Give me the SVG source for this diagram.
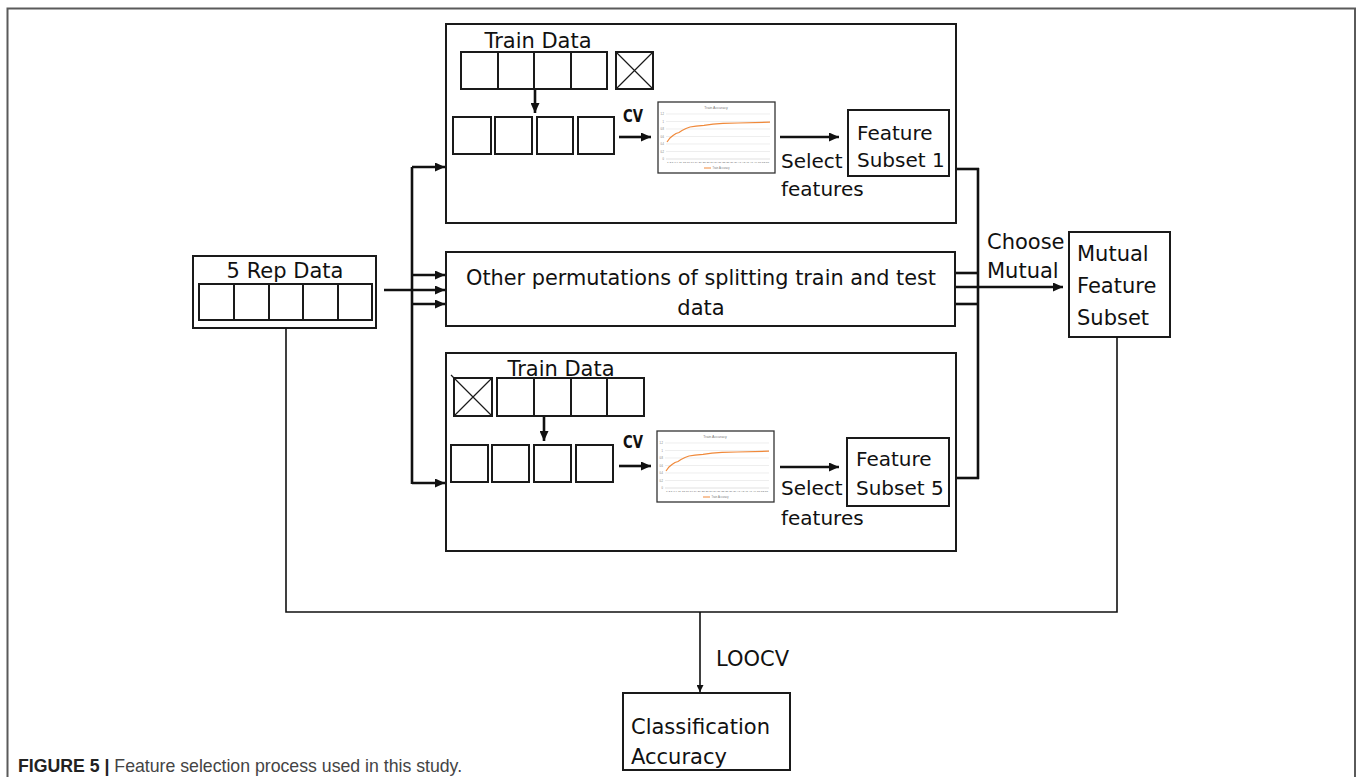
<svg xmlns="http://www.w3.org/2000/svg" xmlns:xlink="http://www.w3.org/1999/xlink" width="1358" height="777" viewBox="0 0 1358 777">
  <style>
    .box { fill: #fff; stroke: #1a1a1a; stroke-width: 2; }
    .cell { fill: #fff; stroke: #1a1a1a; stroke-width: 2; }
    .lbl { font-family: "DejaVu Sans", "Noto Sans", sans-serif; font-size: 21px; fill: #111; }
    .sm { font-size: 20px; }
    .cv { font-family: "DejaVu Sans", sans-serif; font-size: 18px; font-weight: bold; fill: #111; }
    .wire { fill: none; stroke: #111; stroke-width: 2.6; }
    .thin { fill: none; stroke: #111; stroke-width: 1.6; }
    .tiny { font-family: "Liberation Sans", sans-serif; fill: #777; }
    .cap { font-family: "Liberation Sans", Arial, sans-serif; font-size: 17.7px; }
  </style>
  <defs>
    <marker id="ah" markerUnits="userSpaceOnUse" markerWidth="10" markerHeight="9" viewBox="0 0 10 9" refX="10" refY="4.5" orient="auto">
      <path d="M0,0 L10,4.5 L0,9 z" fill="#111"/>
    </marker>
    <marker id="ahs" markerUnits="userSpaceOnUse" markerWidth="7" markerHeight="7" viewBox="0 0 7 7" refX="7" refY="3.5" orient="auto">
      <path d="M0,0 L7,3.5 L0,7 z" fill="#111"/>
    </marker>
    <!-- small line chart of train accuracy, 117 x 71 -->
    <g id="chart">
      <rect x="0" y="0" width="117" height="71" fill="#fff" stroke="#333" stroke-width="1.3"/>
      <text class="tiny" x="58" y="7" font-size="3.6" text-anchor="middle">Train Accuracy</text>
      <g stroke="#e2e2e2" stroke-width="0.6">
        <line x1="8" y1="12" x2="112" y2="12"/>
        <line x1="8" y1="19.5" x2="112" y2="19.5"/>
        <line x1="8" y1="27" x2="112" y2="27"/>
        <line x1="8" y1="34.5" x2="112" y2="34.5"/>
        <line x1="8" y1="42" x2="112" y2="42"/>
        <line x1="8" y1="49.5" x2="112" y2="49.5"/>
        <line x1="8" y1="57" x2="112" y2="57" stroke="#ccc"/>
      </g>
      <g class="tiny" font-size="2.6" text-anchor="end">
        <text x="6" y="13">1.2</text>
        <text x="6" y="20.5">1</text>
        <text x="6" y="28">0.8</text>
        <text x="6" y="35.5">0.6</text>
        <text x="6" y="43">0.4</text>
        <text x="6" y="50.5">0.2</text>
        <text x="6" y="58">0</text>
      </g>
      <polyline fill="none" stroke="#f0893a" stroke-width="1.2" points="9,40 12,36 15,33.5 18,31.5 21,30.5 24,28.5 28,26.5 32,25 38,24.2 46,23.4 55,22.2 65,21.4 80,21 112,20.2"/>
      <text class="tiny" x="60" y="61" font-size="2.2" text-anchor="middle" textLength="102" lengthAdjust="spacingAndGlyphs">1 3 5 7 9 11 13 15 17 19 21 23 25 27 29 31 33 35 37 39 41 43 45 47 49 51 53 55</text>
      <line x1="46" y1="66" x2="53" y2="66" stroke="#f0893a" stroke-width="1"/>
      <text class="tiny" x="54.5" y="67" font-size="2.6">Train Accuracy</text>
    </g>
  </defs>

  <rect width="1358" height="777" fill="#fff"/>

  <!-- outer figure frame, open at the bottom -->
  <path d="M7.5,777 V8.5 H1355 V777" fill="none" stroke="#5a5a5a" stroke-width="2"/>

  <!-- source data -->
  <g id="rep-data">
    <rect class="box" x="193" y="256" width="183" height="72"/>
    <text class="lbl" x="285" y="278" text-anchor="middle">5 Rep Data</text>
    <rect class="cell" x="199" y="284" width="173" height="36"/>
    <line class="cell" x1="234" y1="284" x2="234" y2="320"/>
    <line class="cell" x1="269" y1="284" x2="269" y2="320"/>
    <line class="cell" x1="303" y1="284" x2="303" y2="320"/>
    <line class="cell" x1="338" y1="284" x2="338" y2="320"/>
  </g>

  <!-- first split -->
  <g id="split-1">
    <rect class="box" x="446" y="24" width="510" height="199"/>
    <text class="lbl" x="538" y="48" text-anchor="middle">Train Data</text>
    <rect class="cell" x="461" y="52" width="146" height="37"/>
    <line class="cell" x1="498" y1="52" x2="498" y2="89"/>
    <line class="cell" x1="534" y1="52" x2="534" y2="89"/>
    <line class="cell" x1="571" y1="52" x2="571" y2="89"/>
    <rect class="cell" x="616" y="52" width="37" height="37"/>
    <path d="M616,52 L653,89 M653,52 L616,89" stroke="#1a1a1a" stroke-width="1.2"/>
    <line class="wire" x1="535" y1="90" x2="535" y2="113" stroke-width="2.2" marker-end="url(#ah)"/>
    <rect class="cell" x="453" y="117" width="38" height="37"/>
    <rect class="cell" x="495" y="117" width="37" height="37"/>
    <rect class="cell" x="537" y="117" width="36" height="37"/>
    <rect class="cell" x="578" y="117" width="36" height="37"/>
    <text class="cv" x="623" y="122" textLength="20" lengthAdjust="spacingAndGlyphs">CV</text>
    <line class="wire" x1="619" y1="137" x2="651" y2="137" marker-end="url(#ah)"/>
    <use xlink:href="#chart" x="658" y="102"/>
    <line class="wire" x1="780" y1="137" x2="839" y2="137" marker-end="url(#ah)"/>
    <text class="lbl sm" x="781" y="168">Select</text>
    <text class="lbl sm" x="781" y="196">features</text>
    <rect class="box" x="848" y="110" width="101" height="66"/>
    <text class="lbl sm" x="857" y="140">Feature</text>
    <text class="lbl sm" x="857" y="167">Subset 1</text>
  </g>

  <!-- remaining splits -->
  <g id="other-splits">
    <rect class="box" x="446" y="252" width="509" height="74"/>
    <text class="lbl" x="701" y="285" text-anchor="middle" textLength="470" lengthAdjust="spacingAndGlyphs">Other permutations of splitting train and test</text>
    <text class="lbl" x="701" y="315" text-anchor="middle">data</text>
  </g>

  <!-- fifth split -->
  <g id="split-5">
    <rect class="box" x="446" y="353" width="510" height="198"/>
    <text class="lbl" x="561" y="376" text-anchor="middle">Train Data</text>
    <rect class="cell" x="454" y="378" width="38" height="38"/>
    <path d="M451,375 L492,416 M492,378 L454,416" stroke="#1a1a1a" stroke-width="1.2"/>
    <rect class="cell" x="497" y="378" width="147" height="38"/>
    <line class="cell" x1="534" y1="378" x2="534" y2="416"/>
    <line class="cell" x1="571" y1="378" x2="571" y2="416"/>
    <line class="cell" x1="607" y1="378" x2="607" y2="416"/>
    <line class="wire" x1="544" y1="417" x2="544" y2="441" stroke-width="2.2" marker-end="url(#ah)"/>
    <rect class="cell" x="451" y="445" width="37" height="37"/>
    <rect class="cell" x="492" y="445" width="37" height="37"/>
    <rect class="cell" x="534" y="445" width="37" height="37"/>
    <rect class="cell" x="576" y="445" width="37" height="37"/>
    <text class="cv" x="623" y="448" textLength="20" lengthAdjust="spacingAndGlyphs">CV</text>
    <line class="wire" x1="619" y1="466" x2="651" y2="466" marker-end="url(#ah)"/>
    <use xlink:href="#chart" x="657" y="431"/>
    <line class="wire" x1="780" y1="467" x2="839" y2="467" marker-end="url(#ah)"/>
    <text class="lbl sm" x="781" y="495">Select</text>
    <text class="lbl sm" x="781" y="525">features</text>
    <rect class="box" x="847" y="438" width="102" height="68"/>
    <text class="lbl sm" x="856" y="466">Feature</text>
    <text class="lbl sm" x="856" y="495">Subset 5</text>
  </g>

  <!-- intersection of subsets -->
  <g id="mutual-subset">
    <rect class="box" x="1069" y="232" width="101" height="105"/>
    <text class="lbl" x="1077" y="261">Mutual</text>
    <text class="lbl" x="1077" y="293">Feature</text>
    <text class="lbl" x="1077" y="325">Subset</text>
  </g>

  <!-- final evaluation -->
  <g id="classification">
    <rect class="box" x="623" y="693" width="167" height="77"/>
    <text class="lbl" x="631" y="734">Classification</text>
    <text class="lbl" x="631" y="764">Accuracy</text>
  </g>

  <!-- connectors -->
  <g id="connectors">
    <!-- fan-out bus -->
    <line class="wire" x1="412" y1="167" x2="412" y2="484"/>
    <line class="wire" x1="412" y1="167" x2="445" y2="167" marker-end="url(#ah)"/>
    <line class="wire" x1="412" y1="275" x2="445" y2="275" marker-end="url(#ah)"/>
    <line class="wire" x1="384" y1="290" x2="445" y2="290" marker-end="url(#ah)"/>
    <line class="wire" x1="412" y1="304" x2="445" y2="304" marker-end="url(#ah)"/>
    <line class="wire" x1="412" y1="483" x2="445" y2="483" marker-end="url(#ah)"/>
    <!-- fan-in bus -->
    <line class="wire" x1="978" y1="168" x2="978" y2="479"/>
    <line class="wire" x1="957" y1="169" x2="979" y2="169"/>
    <line class="wire" x1="956" y1="273" x2="979" y2="273"/>
    <line class="wire" x1="956" y1="304" x2="979" y2="304"/>
    <line class="wire" x1="957" y1="478" x2="979" y2="478"/>
    <line class="wire" x1="956" y1="287" x2="1063" y2="287" marker-end="url(#ah)"/>
    <text class="lbl" x="987" y="249" font-size="19">Choose</text>
    <text class="lbl" x="987" y="278" font-size="19">Mutual</text>
    <!-- leave-one-out evaluation -->
    <path class="thin" d="M286,328 V612 H1117 V337"/>
    <line class="thin" x1="700" y1="612" x2="700" y2="692" marker-end="url(#ahs)"/>
    <text class="lbl" x="716" y="666" font-size="20">LOOCV</text>
  </g>

  <!-- caption -->
  <text class="cap" x="18" y="772"><tspan font-weight="bold" fill="#222">FIGURE 5 |</tspan><tspan fill="#444"> Feature selection process used in this study.</tspan></text>
</svg>
